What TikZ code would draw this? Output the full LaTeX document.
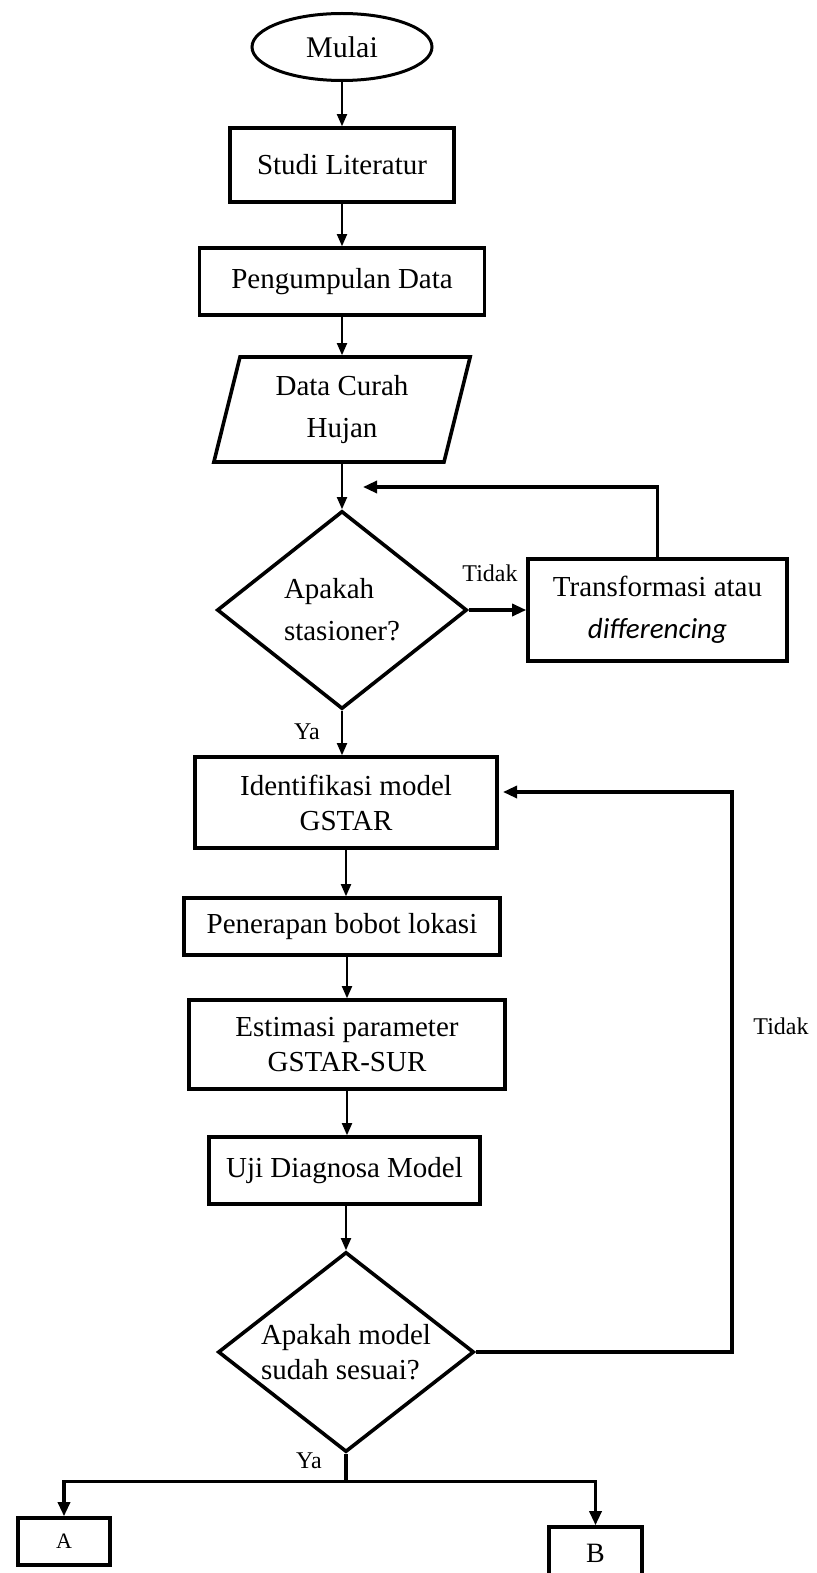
\documentclass[tikz,border=0pt]{standalone}
\usepackage{fontspec}
\setmainfont{Liberation Serif}
\newfontfamily\calibrifont{Carlito}
\usetikzlibrary{arrows.meta,shapes.geometric}

\begin{document}
\begin{tikzpicture}[x=0.5pt, y=-0.5pt,
  proc/.style={draw, line width=1.8pt, inner sep=2pt, align=center, font=\fontsize{14.5}{17.5}\selectfont},
  wide/.style={font=\fontsize{14.5}{21}\selectfont},
  decide/.style={diamond, draw, line width=1.8pt, inner sep=0pt, shape aspect=1.28, align=left, font=\fontsize{14.5}{17.5}\selectfont},
  flow/.style={-{Triangle[length=6pt,width=5pt]}, line width=0.9pt},
  back/.style={-{Triangle[length=7pt,width=6pt]}, line width=1.6pt},
  lbl/.style={font=\fontsize{12}{14}\selectfont, inner sep=0pt}]
\useasboundingbox (0,0) rectangle (817,1573);

% Start and input
\node[ellipse, draw, line width=1.5pt, minimum width=90pt, minimum height=33.5pt, inner sep=0pt, font=\fontsize{15}{18}\selectfont] (mulai) at (342,47) {Mulai};
\node[proc, minimum width=112pt, minimum height=37pt] (studi) at (342,165) {Studi Literatur};
\node[proc, minimum width=142.5pt, minimum height=33.5pt] (kumpul) at (342,281.5) {Pengumpulan Data};
\node[trapezium, trapezium left angle=76, trapezium right angle=104, trapezium stretches=true, draw, line width=1.8pt, minimum width=129pt, minimum height=52.5pt, inner sep=0pt, align=center, wide] (hujan) at (342,409.5) {Data Curah\\Hujan};

% Stationarity check
\node[decide, wide, minimum width=125pt, minimum height=99pt] (stasioner) at (342,610) {Apakah\\stasioner?};
\node[proc, wide, minimum width=129.5pt, minimum height=51pt] (transform) at (657.5,610) {Transformasi atau\\{\calibrifont\itshape differencing}};
\coordinate (balik1) at (363,487);

% Modelling steps
\node[proc, minimum width=151pt, minimum height=45.5pt] (ident) at (346,802.5) {Identifikasi model\\GSTAR};
\node[proc, minimum width=158pt, minimum height=28.5pt] (bobot) at (342,926.5) {Penerapan bobot lokasi};
\node[proc, minimum width=158pt, minimum height=44.5pt] (estimasi) at (347,1044.5) {Estimasi parameter\\GSTAR-SUR};
\node[proc, minimum width=135.5pt, minimum height=33.5pt] (uji) at (344.5,1170.5) {Uji Diagnosa Model};
\node[decide, minimum width=128pt, minimum height=100pt] (sesuai) at (346,1352) {Apakah model\\sudah sesuai?};
\coordinate (pojok2) at (732,792);
\coordinate (balik2) at (503,792);

% Connectors A and B
\node[proc, minimum width=46pt, minimum height=23.5pt, font=\fontsize{11}{13}\selectfont] (konA) at (64,1541.5) {A};
\node[proc, minimum width=46.5pt, minimum height=26.5pt, font=\fontsize{14}{16}\selectfont] (konB) at (595.5,1553.5) {B};

% Labels
\node[lbl] (ya1) at (307,732) {Ya};
\node[lbl] (tidak1) at (490,573) {Tidak};
\node[lbl] (tidak2) at (781,1026) {Tidak};
\node[lbl] (ya2) at (309,1461) {Ya};

% Arrows
\draw[flow] (mulai) -- (studi);
\draw[flow] (studi) -- (kumpul);
\draw[flow] (kumpul) -- (hujan);
\draw[flow] (hujan) -- (stasioner);
\draw[back] (stasioner) -- (transform);
\draw[back] (transform.north) |- (balik1);
\draw[flow] (stasioner.south) -- (stasioner.south |- ident.north);
\draw[flow] (ident.south) -- (ident.south |- bobot.north);
\draw[flow] (bobot.south -| estimasi.north) -- (estimasi.north);
\draw[flow] (estimasi.south) -- (estimasi.south |- uji.north);
\draw[flow] (uji.south -| sesuai.north) -- (sesuai.north);
\draw[back] (sesuai.east) -| (pojok2) -- (balik2);
\draw[line width=1.6pt] (sesuai.south) -- ++(0,28) coordinate (cabang);
\draw[back] (cabang) -| (konA.north);
\draw[back] (cabang) -| (konB.north);
\end{tikzpicture}
\end{document}
